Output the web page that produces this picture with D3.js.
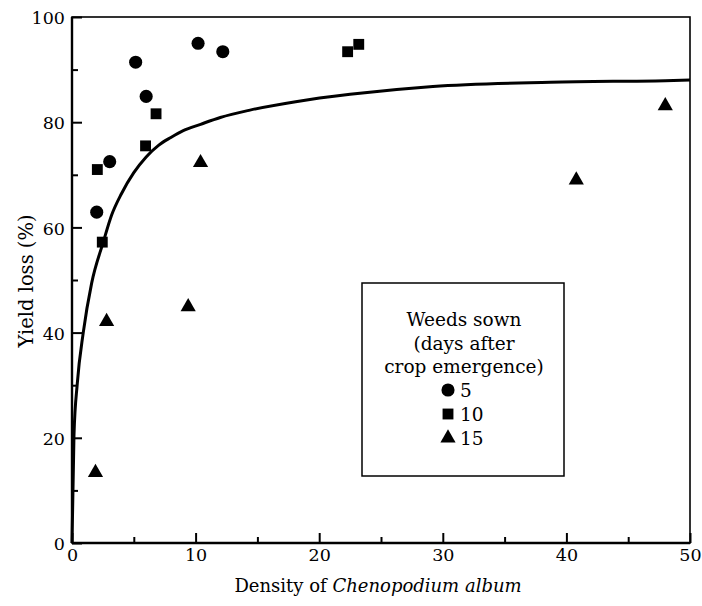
<!DOCTYPE html>
<html>
<head>
<meta charset="utf-8">
<script src="https://cdn.jsdelivr.net/npm/d3@7"></script>
<style>
  html, body { margin: 0; padding: 0; background: #fff; }
</style>
</head>
<body>
<svg id="chart" width="702" height="606"></svg>
<script>
// ---- data ----
const days5 = [[2.0, 62.9], [3.05, 72.5], [5.15, 91.4], [6.0, 84.9], [10.2, 95.0], [12.2, 93.4]];
const days10 = [[2.05, 71.0], [2.45, 57.2], [5.95, 75.5], [6.8, 81.6], [22.3, 93.4], [23.2, 94.8]];
const days15 = [[1.9, 13.4], [2.8, 42.1], [9.4, 44.9], [10.4, 72.3], [40.8, 69.0], [48.0, 83.1]];
// fitted response curve
const curvePts = [[0, 0], [0.16, 20.5], [0.43, 30.4], [0.91, 40], [1.59, 49.4], [2.53, 57.2], [3.2, 62.3],
  [4.0, 66.4], [5.0, 70.4], [6.0, 73.4], [7.0, 75.6], [8.0, 77.1], [9.0, 78.4], [10.4, 79.6], [12.0, 80.9],
  [14.4, 82.3], [18.1, 83.9], [22.5, 85.3], [29.2, 86.8], [38.7, 87.6], [48, 87.9], [50, 88.0]];
const xMajor = [0, 10, 20, 30, 40, 50];
const xMinor = [5, 15, 25, 35, 45];
const yMajor = [0, 20, 40, 60, 80, 100];
const yMinor = [10, 30, 50, 70, 90];
const legendTitle = ["Weeds sown", "(days after", "crop emergence)"];
const legendItems = [{label: "5", sym: "circle"}, {label: "10", sym: "square"}, {label: "15", sym: "triangle"}];

const FONT = "DejaVu Serif";
const svg = d3.select("#chart");
const L = 72, R = 690, T = 17, B = 543;
const x = d3.scaleLinear().domain([0, 50]).range([L, R]);
const y = d3.scaleLinear().domain([0, 100]).range([B, T]);

const symType = {circle: d3.symbolCircle, square: d3.symbolSquare, triangle: d3.symbolTriangle};
const symSize = {circle: 135, square: 118, triangle: 100};

// frame
svg.append("rect").attr("x", L).attr("y", T).attr("width", R - L).attr("height", B - T)
  .attr("fill", "none").attr("stroke", "#000").attr("stroke-width", 1.6);
svg.append("line").attr("x1", L).attr("x2", L).attr("y1", T).attr("y2", B).attr("stroke", "#000").attr("stroke-width", 2.4);
svg.append("line").attr("x1", L).attr("x2", R).attr("y1", B).attr("y2", B).attr("stroke", "#000").attr("stroke-width", 2.4);

// axes
const gx = svg.append("g").attr("transform", `translate(0,${B})`)
  .call(d3.axisBottom(x).tickValues(xMajor).tickSize(-10).tickPadding(6).tickFormat(d3.format("d")));
const gxm = svg.append("g").attr("transform", `translate(0,${B})`)
  .call(d3.axisBottom(x).tickValues(xMinor).tickSize(-6).tickFormat(""));
const gy = svg.append("g").attr("transform", `translate(${L},0)`)
  .call(d3.axisLeft(y).tickValues(yMajor).tickSize(-10).tickPadding(7).tickFormat(d3.format("d")));
const gym = svg.append("g").attr("transform", `translate(${L},0)`)
  .call(d3.axisLeft(y).tickValues(yMinor).tickSize(-6).tickFormat(""));
[gx, gxm, gy, gym].forEach(g => {
  g.attr("font-family", FONT).attr("font-size", 17.5);
  g.select(".domain").remove();
  g.selectAll("line").attr("stroke", "#000").attr("stroke-width", 2);
  g.selectAll("text").attr("font-family", FONT).attr("font-size", 17.5).attr("fill", "#000");
});
gy.selectAll("text").attr("dy", "0.38em");

// axis titles
const xt = svg.append("text").attr("x", 378).attr("y", 592).attr("text-anchor", "middle")
  .attr("font-family", FONT).attr("font-size", 18);
xt.append("tspan").text("Density of ");
xt.append("tspan").attr("font-style", "italic").text("Chenopodium album");
svg.append("text").attr("transform", "translate(33,281) rotate(-90)").attr("text-anchor", "middle")
  .attr("font-family", FONT).attr("font-size", 19.5).text("Yield loss (%)");

// curve
svg.append("path").datum(curvePts)
  .attr("d", d3.line().x(d => x(d[0])).y(d => y(d[1])).curve(d3.curveMonotoneX))
  .attr("fill", "none").attr("stroke", "#000").attr("stroke-width", 3);

// points
function drawSeries(data, sym) {
  svg.append("g").selectAll("path").data(data).join("path")
    .attr("transform", d => `translate(${x(d[0])},${y(d[1])})`)
    .attr("d", d3.symbol().type(symType[sym]).size(symSize[sym])())
    .attr("fill", "#000");
}
drawSeries(days5, "circle");
drawSeries(days10, "square");
drawSeries(days15, "triangle");

// legend
const lg = svg.append("g");
lg.append("rect").attr("x", 362).attr("y", 283).attr("width", 202).attr("height", 193)
  .attr("fill", "#fff").attr("stroke", "#000").attr("stroke-width", 1.5);
legendTitle.forEach((t, i) => {
  lg.append("text").attr("x", 464).attr("y", 326 + i * 23.5).attr("text-anchor", "middle")
    .attr("font-family", FONT).attr("font-size", 18.5).text(t);
});
legendItems.forEach((it, i) => {
  const cy = 390 + i * 24;
  lg.append("path").attr("transform", `translate(448,${cy})`)
    .attr("d", d3.symbol().type(symType[it.sym]).size(symSize[it.sym])()).attr("fill", "#000");
  lg.append("text").attr("x", 460).attr("y", cy + 7)
    .attr("font-family", FONT).attr("font-size", 18.5).text(it.label);
});
</script>
</body>
</html>
